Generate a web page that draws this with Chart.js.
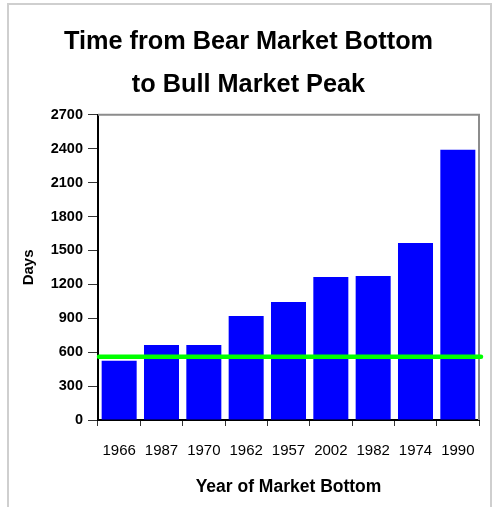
<!DOCTYPE html>
<html>
<head>
<meta charset="utf-8">
<script src="https://cdn.jsdelivr.net/npm/chart.js@4.4.0/dist/chart.umd.min.js"></script>
<style>
  html, body { margin: 0; padding: 0; background: #fff; }
  #wrap { position: relative; width: 497px; height: 507px; overflow: hidden; }
  #frame {
    position: absolute; left: 7px; top: 3px; width: 481px; height: 520px;
    border: 2px solid #cfcfcf; pointer-events: none;
  }
  canvas { position: absolute; left: 0; top: 0; }
</style>
</head>
<body>
<div id="wrap">
  <canvas id="chart" width="497" height="507"></canvas>
  <div id="frame"></div>
</div>
<script>
// --- Data ---
const years = ['1966', '1987', '1970', '1962', '1957', '2002', '1982', '1974', '1990'];
const daysToPeak = [525, 664, 664, 921, 1045, 1266, 1275, 1567, 2390];
const yTicks = [0, 300, 600, 900, 1200, 1500, 1800, 2100, 2400, 2700];
const benchmarkDays = 560;

const FONT = "'Liberation Sans', Arial, sans-serif";

// plot border (top/right) + green reference line
const extras = {
  id: 'extras',
  afterDatasetsDraw(chart) {
    const { ctx, chartArea: a, scales } = chart;
    ctx.save();
    ctx.strokeStyle = '#8c8c8c';
    ctx.lineWidth = 2;
    ctx.beginPath();
    ctx.moveTo(a.left, a.top);
    ctx.lineTo(a.right, a.top);
    ctx.lineTo(a.right, a.bottom);
    ctx.stroke();

    const y = scales.y.getPixelForValue(benchmarkDays);
    ctx.strokeStyle = '#00ff00';
    ctx.lineWidth = 4.5;
    ctx.lineCap = 'round';
    ctx.beginPath();
    ctx.moveTo(a.left + 1, y);
    ctx.lineTo(a.right + 2, y);
    ctx.stroke();
    ctx.restore();
  }
};

new Chart(document.getElementById('chart'), {
  type: 'bar',
  data: {
    labels: years,
    datasets: [{
      data: daysToPeak,
      backgroundColor: '#0000ff',
      borderWidth: 0,
      categoryPercentage: 1,
      barPercentage: 0.827
    }]
  },
  options: {
    responsive: false,
    animation: false,
    layout: { padding: { left: 18, right: 18, top: 0, bottom: 0 } },
    plugins: {
      legend: { display: false },
      tooltip: { enabled: false },
      title: {
        display: true,
        text: ['Time from Bear Market Bottom', 'to Bull Market Peak'],
        color: '#000',
        font: { family: FONT, size: 25.3, weight: 'bold', lineHeight: 1.71 },
        padding: { top: 20.3, bottom: 8 }
      }
    },
    scales: {
      x: {
        grid: { drawOnChartArea: false, tickLength: 6, color: '#333', offset: true },
        border: { color: '#000', width: 2 },
        ticks: {
          color: '#000', padding: 16, maxRotation: 0, autoSkip: false,
          font: { family: FONT, size: 15 }
        },
        title: {
          display: true, text: 'Year of Market Bottom', color: '#000',
          font: { family: FONT, size: 17.5, weight: 'bold' },
          padding: { top: 0, bottom: 9.5 }
        },
        afterFit: (scale) => { scale.height = 87; }
      },
      y: {
        min: 0,
        max: 2700,
        afterBuildTicks: (scale) => { scale.ticks = yTicks.map(v => ({ value: v })); },
        grid: { drawOnChartArea: false, tickLength: 10, color: '#333' },
        border: { color: '#000', width: 2 },
        ticks: {
          color: '#000', padding: 5,
          font: { family: FONT, size: 14.5, weight: 'bold' },
          callback: (v) => String(v)
        },
        title: {
          display: true, text: 'Days', color: '#000',
          font: { family: FONT, size: 15, weight: 'bold' },
          padding: { top: 2, bottom: 0 }
        },
        afterFit: (scale) => { scale.width = 80; }
      }
    }
  },
  plugins: [extras]
});
</script>
</body>
</html>
